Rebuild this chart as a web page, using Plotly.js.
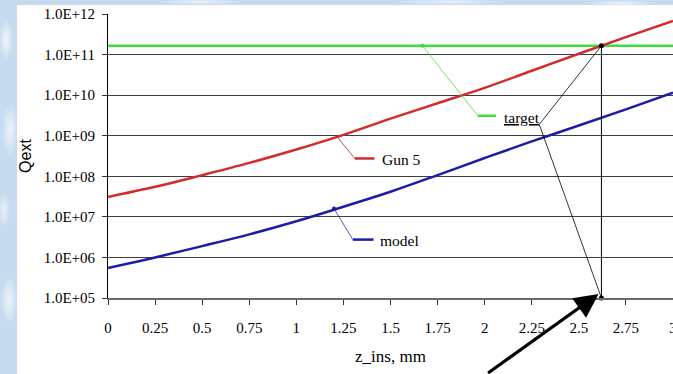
<!DOCTYPE html>
<html>
<head>
<meta charset="utf-8">
<script src="https://cdn.plot.ly/plotly-3.0.1.min.js"></script>
<style>
html, body { margin:0; padding:0; width:673px; height:374px; overflow:hidden; }
body {
  background-color:#c6dbef;
  background-image:
    radial-gradient(ellipse 10px 30px at 6px 40px, rgba(255,255,255,0.75), rgba(255,255,255,0) 70%),
    radial-gradient(ellipse 12px 40px at 10px 130px, rgba(255,255,255,0.7), rgba(255,255,255,0) 70%),
    radial-gradient(ellipse 9px 25px at 4px 210px, rgba(255,255,255,0.6), rgba(255,255,255,0) 70%),
    radial-gradient(ellipse 12px 35px at 9px 300px, rgba(255,255,255,0.7), rgba(255,255,255,0) 70%),
    radial-gradient(ellipse 60px 4px at 200px 2px, rgba(255,255,255,0.7), rgba(255,255,255,0) 70%),
    radial-gradient(ellipse 80px 4px at 450px 2px, rgba(255,255,255,0.6), rgba(255,255,255,0) 70%),
    radial-gradient(ellipse 50px 4px at 620px 3px, rgba(255,255,255,0.7), rgba(255,255,255,0) 70%);
}
#chart { position:absolute; left:17px; top:5px; width:656px; height:369px; }
</style>
</head>
<body>
<div id="chart"></div>
<script>
// ---- data ----
const zIns   = [0, 0.25, 0.5, 0.75, 1, 1.25, 1.5, 1.75, 2, 2.25, 2.5, 2.75, 3];
const gun5   = [3.1e7, 5.5e7, 1.07e8, 2.14e8, 4.57e8, 1.05e9, 2.63e9, 6.3e9, 1.51e10, 3.98e10, 1.05e11, 2.69e11, 6.76e11];
const model  = [5.5e5, 1.0e6, 1.9e6, 3.7e6, 7.8e6, 1.78e7, 4.17e7, 1.07e8, 2.82e8, 7.24e8, 1.78e9, 4.47e9, 1.15e10];
const targetZ = [0, 3];
const targetQ = [1.65e11, 1.65e11];

// crossing of Gun 5 with target
const crossZ = 2.62;
const crossQ = 1.65e11;
const axisQ  = 1e5;

const xTickVals = [0, 0.25, 0.5, 0.75, 1, 1.25, 1.5, 1.75, 2, 2.25, 2.5, 2.75, 3];
const xTickText = ["0", "0.25", "0.5", "0.75", "1", "1.25", "1.5", "1.75", "2", "2.25", "2.5", "2.75", "3"];
const yTickVals = [1e5, 1e6, 1e7, 1e8, 1e9, 1e10, 1e11, 1e12];
const yTickText = ["1.0E+05", "1.0E+06", "1.0E+07", "1.0E+08", "1.0E+09", "1.0E+10", "1.0E+11", "1.0E+12"];

// data-label leader lines (label anchor points)
const gun5LeaderZ   = [1.21, 1.31, 1.415];
const gun5LeaderQ   = [1.02e9, 2.75e8, 2.75e8];
const modelLeaderZ  = [1.2, 1.30, 1.41];
const modelLeaderQ  = [1.6e7, 2.75e6, 2.75e6];
const targetLeaderZ = [1.67, 1.964, 2.06];
const targetLeaderQ = [1.65e11, 3.1e9, 3.1e9];
const guideZ = [crossZ, 2.29, crossZ];
const guideQ = [crossQ, 1.9e9, axisQ];

const RED = '#d42a2a', BLUE = '#1c1ca8', GREEN = '#3ede3e';
const SERIF = 'Liberation Serif, Times New Roman, serif';
const SANS = 'Liberation Sans, Arial, sans-serif';

const traces = [
  {x: targetZ, y: targetQ, mode: 'lines', line: {color: GREEN, width: 2.5}, name: 'target'},
  {x: zIns, y: gun5, mode: 'lines', line: {color: RED, width: 2.5, shape: 'spline'}, name: 'Gun 5'},
  {x: zIns, y: model, mode: 'lines', line: {color: BLUE, width: 2.5, shape: 'spline'}, name: 'model'},
  {x: [crossZ, crossZ], y: [crossQ, axisQ], mode: 'lines', line: {color: '#000', width: 1}},
  {x: guideZ, y: guideQ, mode: 'lines', line: {color: '#000', width: 0.8}},
  {x: [crossZ, crossZ], y: [crossQ, axisQ], mode: 'markers', marker: {color: '#000', size: 5}, cliponaxis: false},
  {x: gun5LeaderZ.slice(0, 2), y: gun5LeaderQ.slice(0, 2), mode: 'lines', line: {color: '#a03030', width: 0.8}},
  {x: gun5LeaderZ.slice(1), y: gun5LeaderQ.slice(1), mode: 'lines', line: {color: RED, width: 2.5}},
  {x: modelLeaderZ.slice(0, 2), y: modelLeaderQ.slice(0, 2), mode: 'lines', line: {color: '#303090', width: 0.8}},
  {x: modelLeaderZ.slice(1), y: modelLeaderQ.slice(1), mode: 'lines', line: {color: BLUE, width: 2.5}},
  {x: [modelLeaderZ[0]], y: [modelLeaderQ[0]], mode: 'markers', marker: {color: BLUE, size: 4}},
  {x: targetLeaderZ.slice(0, 2), y: targetLeaderQ.slice(0, 2), mode: 'lines', line: {color: GREEN, width: 0.8}},
  {x: targetLeaderZ.slice(1), y: targetLeaderQ.slice(1), mode: 'lines', line: {color: GREEN, width: 2.5}},
  {x: [targetLeaderZ[0]], y: [targetLeaderQ[0]], mode: 'markers', marker: {color: GREEN, size: 4}}
];

const layout = {
  width: 656, height: 369,
  margin: {l: 91, r: 0, t: 9, b: 76},
  paper_bgcolor: '#ffffff',
  plot_bgcolor: '#ffffff',
  showlegend: false,
  font: {family: SERIF, size: 14, color: '#000'},
  xaxis: {
    range: [0, 3], tickmode: 'array', tickvals: xTickVals, ticktext: xTickText,
    showgrid: false, zeroline: false, showline: true, linecolor: '#6a6a6a', linewidth: 1.5,
    ticks: 'outside', ticklen: 5, tickcolor: '#333', tickwidth: 1,
    ticklabelstandoff: 10, ticklabeloverflow: 'allow',
    tickfont: {family: SERIF, size: 15, color: '#000'},
    title: {text: 'z_ins, mm', font: {family: SERIF, size: 17, color: '#000'}, standoff: 15},
    automargin: false, fixedrange: true
  },
  yaxis: {
    type: 'log', range: [5, 12], tickmode: 'array', tickvals: yTickVals, ticktext: yTickText,
    showgrid: true, gridcolor: '#3c3c3c', gridwidth: 1, zeroline: false,
    showline: true, linecolor: '#000', linewidth: 1,
    ticks: 'outside', ticklen: 5, tickcolor: '#333', tickwidth: 1,
    ticklabelstandoff: 4,
    tickfont: {family: SERIF, size: 15, color: '#000'},
    title: {text: 'Qext', font: {family: SANS, size: 16, color: '#000'}, standoff: 8},
    automargin: false, fixedrange: true
  },
  annotations: [
    {x: 1.442, y: Math.log10(2.6e8), xref: 'x', yref: 'y', text: 'Gun 5', showarrow: false,
     xanchor: 'left', yanchor: 'middle', font: {family: SERIF, size: 15.5, color: '#000'}},
    {x: 1.433, y: Math.log10(2.65e6), xref: 'x', yref: 'y', text: 'model', showarrow: false,
     xanchor: 'left', yanchor: 'middle', font: {family: SERIF, size: 15.5, color: '#000'}},
    {x: 2.091, y: Math.log10(2.8e9), xref: 'x', yref: 'y', text: '<u>target</u>', showarrow: false,
     xanchor: 'left', yanchor: 'middle', font: {family: SERIF, size: 15.5, color: '#000'}},
    {x: 2.605, y: 5.1, xref: 'x', yref: 'y', text: '', showarrow: true,
     axref: 'pixel', ayref: 'pixel', ax: -112, ay: 84,
     arrowhead: 2, arrowsize: 1.5, arrowwidth: 3.2, arrowcolor: '#000', standoff: 0}
  ]
};

Plotly.newPlot('chart', traces, layout, {staticPlot: true, displayModeBar: false});
</script>
</body>
</html>
